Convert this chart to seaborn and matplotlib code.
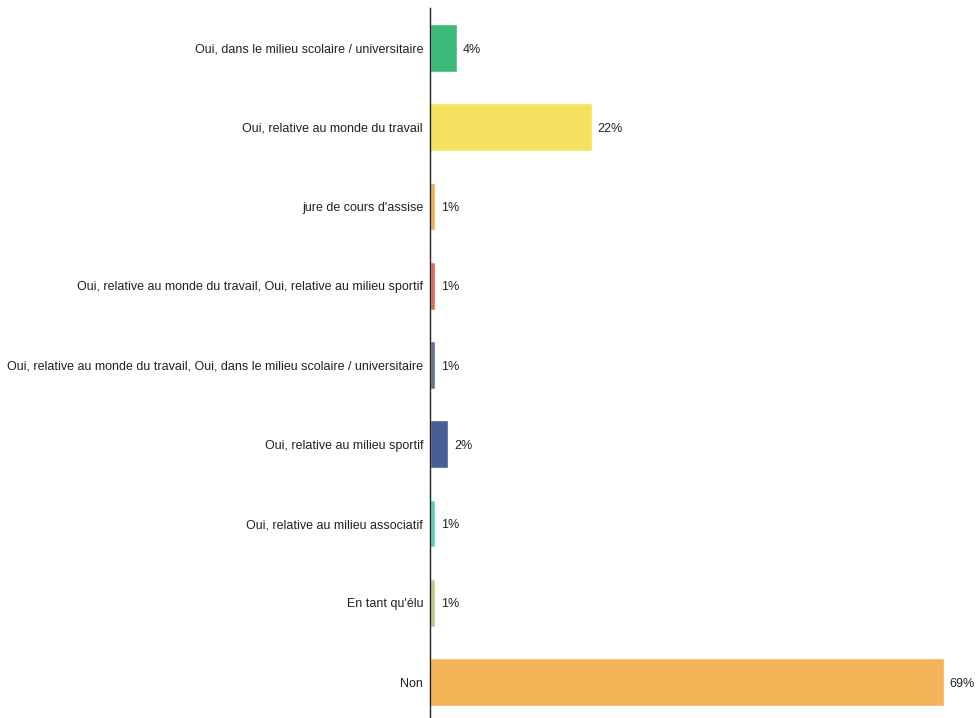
import matplotlib
matplotlib.use("Agg")
import matplotlib.pyplot as plt
import seaborn as sns
import pandas as pd

categories = [
    "Oui, dans le milieu scolaire / universitaire",
    "Oui, relative au monde du travail",
    "jure de cours d'assise",
    "Oui, relative au monde du travail, Oui, relative au milieu sportif",
    "Oui, relative au monde du travail, Oui, dans le milieu scolaire / universitaire",
    "Oui, relative au milieu sportif",
    "Oui, relative au milieu associatif",
    "En tant qu'élu",
    "Non",
]
values = [3.6, 21.7, 0.7, 0.7, 0.7, 2.4, 0.7, 0.7, 69.0]
colors = ["#3bb87a", "#f6e15f", "#f2b050", "#de6a5a", "#677291",
          "#475f97", "#5ccdb9", "#b7cd87", "#f2b457"]

sns.set_style("white")
plt.rcParams["font.family"] = ["Liberation Sans", "DejaVu Sans"]

df = pd.DataFrame({"cat": categories, "val": values})

fig = plt.figure(figsize=(9.76, 7.18), dpi=100)
ax = fig.add_axes([430 / 976, 0, 536 / 976, 710 / 718])
sns.barplot(data=df, x="val", y="cat", hue="cat", palette=colors,
            width=0.605, legend=False, ax=ax, saturation=1)

for i, v in enumerate(values):
    ax.text(v + 0.8, i, f"{v:.0f}%", va="center_baseline", ha="left",
            fontsize=9, color="#222222")

ax.set_xlim(0, 72)
ax.set_ylim(8.454, -0.505)
ax.set_xlabel("")
ax.set_ylabel("")
ax.set_xticks([])
ax.tick_params(axis="y", length=0, pad=5, labelsize=9, labelcolor="#222222")
for s in ["top", "right", "bottom"]:
    ax.spines[s].set_visible(False)
ax.spines["left"].set_color("#222222")
ax.spines["left"].set_linewidth(1)

fig.savefig("out.png", dpi=100)
